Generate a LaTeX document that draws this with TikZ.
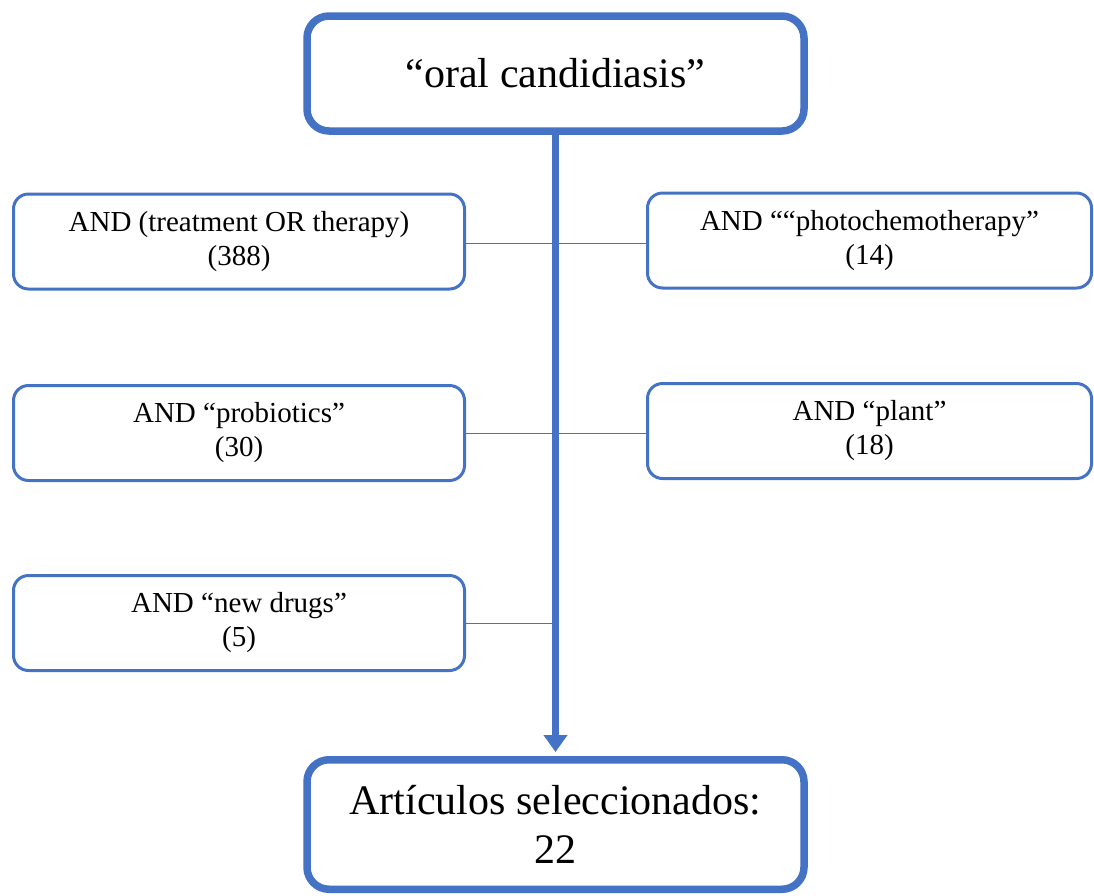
\documentclass[tikz,border=0pt]{standalone}
\usepackage{fontspec}
\setmainfont{Liberation Serif}
\usepackage{tikz}
\usetikzlibrary{arrows.meta}
\definecolor{boxblue}{HTML}{4472C4}
\tikzstyle{mainbox} = [draw=boxblue,line width=7.5pt,rectangle,
  rounded corners=22pt,minimum width=497pt,align=center,
  font=\fontsize{42}{49}\selectfont]
\tikzstyle{termbox} = [draw=boxblue,line width=3pt,rectangle,
  rounded corners=15pt,minimum height=95pt,align=center,
  font=\fontsize{29}{34}\selectfont]
\tikzstyle{flow} = [draw=boxblue,line width=7.5pt]
\tikzstyle{link} = [draw=boxblue,line width=1pt]

\begin{document}
\begin{tikzpicture}[x=1pt,y=-1pt]
    \useasboundingbox (0,0) rectangle (1094,895);
    \node [mainbox,minimum height=115pt] (query) at (555.5,73.5) {``oral candidiasis''};
    \node [mainbox,minimum height=129.5pt] (result) at (555.5,824.5) {%
      Artículos seleccionados:\\22};
    % search terms, left column
    \node [termbox,minimum width=451pt] (treat) at (239,241.5) {%
      AND (treatment OR therapy)\\(388)};
    \node [termbox,minimum width=451pt] (probio) at (239,433) {%
      AND ``probiotics''\\(30)};
    \node [termbox,minimum width=451pt] (drugs) at (239,623) {%
      AND ``new drugs''\\(5)};
    % search terms, right column
    \node [termbox,minimum width=444pt] (photo) at (869.5,240.5) {%
      AND ````photochemotherapy''\\(14)};
    \node [termbox,minimum width=444pt] (plant) at (869.5,431) {%
      AND ``plant''\\(18)};
    % links to the main line
    \draw [link] ([yshift=-2pt]treat.east) -- ([yshift=-2pt]treat.east -| photo.west);
    \draw [link] (probio.east) -- (probio.east -| plant.west);
    \draw [link] (drugs.east) -- (drugs.east -| query.south);
    \draw [flow,-{Triangle[width=23pt,length=17pt]},shorten >=4pt] (query.south) -- (result.north);
  \end{tikzpicture}
\end{document}
